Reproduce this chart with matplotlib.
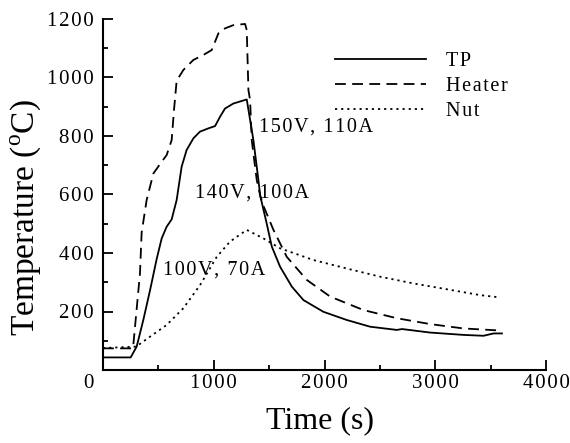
import matplotlib
matplotlib.use("Agg")
import matplotlib.pyplot as plt
from matplotlib.ticker import MultipleLocator, FuncFormatter
import matplotlib.transforms as mtrans

plt.rcParams['font.family'] = ['Liberation Serif', 'DejaVu Serif']
plt.rcParams['mathtext.fontset'] = 'custom'
plt.rcParams['mathtext.rm'] = 'Liberation Serif'

# data
tp_t = [0, 250, 304, 364, 425, 485, 530, 575, 620, 665, 710, 755, 816, 876,
        951, 1012, 1057, 1102, 1177, 1298, 1358, 1403, 1420, 1478, 1524, 1599,
        1705, 1810, 1990, 2201, 2412, 2653, 2700, 2954, 3255, 3436, 3526, 3602]
tp_T = [43, 43, 80, 171, 273, 380, 450, 490, 515, 581, 695, 752, 792, 815,
        826, 834, 866, 894, 911, 925, 786, 650, 595, 501, 422, 353,
        285, 239, 199, 171, 148, 137, 140, 128, 120, 117, 125, 125]

heater_t = [0, 271, 334, 349, 394, 455, 530, 575, 620, 641, 665, 726, 816,
            906, 982, 1042, 1102, 1177, 1283, 1298, 1313, 1328, 1343, 1388,
            1420, 1450, 1539, 1659, 1840, 2051, 2351, 2653, 2954, 3255, 3586]
heater_T = [74, 74, 331, 470, 581, 672, 712, 735, 786, 889, 989, 1026, 1060,
            1077, 1094, 1151, 1168, 1179, 1183, 1162, 957, 923, 786, 650,
            595, 560, 479, 387, 308, 251, 205, 177, 157, 142, 135]

nut_t = [0, 300, 425, 575, 725, 876, 1027, 1147, 1298, 1448, 1599, 1900,
         2201, 2502, 2803, 3105, 3406, 3586]
nut_T = [75, 80, 114, 154, 211, 290, 387, 439, 479, 450, 416, 376,
         347, 319, 296, 276, 256, 248]

series_names = ["TP", "Heater", "Nut"]
notes = [("150V, 110A", 1410, 830), ("140V, 100A", 830, 605), ("100V, 70A", 542, 342)]

HAIR = "\u200a"


def spaced(s, sp=HAIR):
    return sp.join(s)


fig = plt.figure(figsize=(5.7, 4.43), dpi=100)
ax = fig.add_axes([103 / 570, 73 / 443, 443 / 570, 351 / 443])

lw = 1.3
ax.plot(tp_t, tp_T, color='k', lw=lw, label=spaced(series_names[0]))
ax.plot(heater_t, heater_T, color='k', lw=lw, dashes=(6, 3.5), label=spaced(series_names[1]))
ax.plot(nut_t, nut_T, color='k', lw=lw, dashes=(1.2, 2.2), label=spaced(series_names[2]))

for txt, x, y in notes:
    ax.text(x, y, spaced(txt), fontsize=14.5, ha='left', va='center')

ax.set_xlim(0, 4000)
ax.set_ylim(0, 1200)
ax.spines['top'].set_visible(False)
ax.spines['right'].set_visible(False)
for s in ('left', 'bottom'):
    ax.spines[s].set_linewidth(1.5)

ax.xaxis.set_major_locator(MultipleLocator(1000))
ax.xaxis.set_minor_locator(MultipleLocator(500))
ax.yaxis.set_major_locator(MultipleLocator(200))
ax.yaxis.set_minor_locator(MultipleLocator(100))
fmt = FuncFormatter(lambda v, p: "" if v == 0 else spaced(str(int(v))))
ax.xaxis.set_major_formatter(fmt)
ax.yaxis.set_major_formatter(fmt)
ax.tick_params(which='major', direction='in', length=7, width=1.3, labelsize=15)
ax.tick_params(which='minor', direction='in', length=3.5, width=1.3)
ax.tick_params(axis='y', pad=7)
ax.tick_params(axis='x', pad=3)

off = mtrans.offset_copy(ax.transData, fig=fig, x=-15, y=-13, units='dots')
ax.text(0, 0, "0", transform=off, fontsize=15, ha='center', va='center')

ax.set_xlabel("Time (s)", fontsize=23, va='center')
ax.xaxis.set_label_coords(0.49, -0.145)
ax.set_ylabel("Temperature ($^{\\mathrm{o}}$C)", fontsize=24, va='center', ha='center')
ax.yaxis.set_label_coords(-0.176, 0.433)

leg = ax.legend(loc='upper left', bbox_to_anchor=(335 / 570, 1 - 52 / 443),
                bbox_transform=fig.transFigure, frameon=False, fontsize=14.5,
                handlelength=4.5, handletextpad=1.0, labelspacing=0.3,
                borderpad=0, borderaxespad=0)

fig.savefig("out.png", dpi=100)
